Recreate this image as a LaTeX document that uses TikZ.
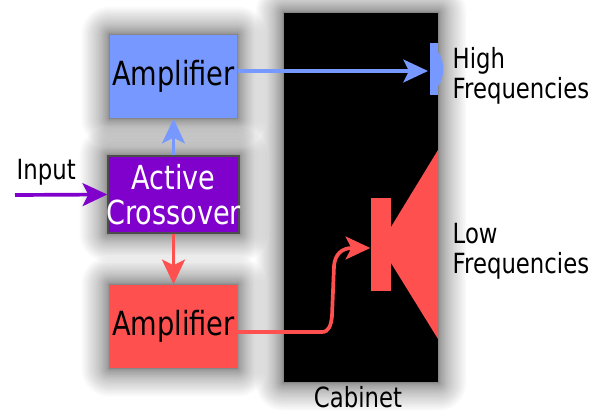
\documentclass[tikz,border=0pt]{standalone}
\usepackage{fontspec}
\setmainfont[FakeStretch=0.82]{DejaVu Sans}
\usetikzlibrary{arrows.meta,backgrounds,calc}
\definecolor{ampblue}{RGB}{119,153,255}
\definecolor{ampred}{RGB}{255,80,80}
\definecolor{xpurple}{RGB}{128,0,204}
\tikzset{
    box/.style={inner sep=0pt, minimum width=1.27cm, minimum height=0.83cm, font=\fontsize{9.45}{10}\selectfont},
    label/.style={inner sep=0pt, align=left, font=\fontsize{7.9}{8.4}\selectfont},
    wire/.style={line width=1.05pt, -{Stealth[length=7pt, width=6.5pt, inset=1.6pt]}},
}
\newcommand{\softshadow}[1]{
    \foreach \i [evaluate=\i as \r using \i*\i/130] in {1, ..., 32} {
        \fill[black, opacity=0.02, rounded corners=\r pt]
            ($(#1.south west)+(-\r pt, -\r pt)$) rectangle ($(#1.north east)+(\r pt, \r pt)$);
    }
}
\begin{document}
\begin{tikzpicture}[x=0.01cm, y=-0.01cm]
    \useasboundingbox (0, 0) rectangle (600, 412);

    % cabinet and speakers
    \node[fill=black, minimum width=1.54cm, minimum height=3.69cm, inner sep=0pt] (cabinet) at (361, 197.5) {};
    \fill[ampblue] (438, 52) .. controls (445, 60) and (445, 78) .. (438, 86) -- cycle;
    \node[fill=ampblue, minimum width=0.08cm, minimum height=0.52cm, inner sep=0pt] (tweeter) at (434, 69) {};
    \node[fill=ampred, minimum width=0.20cm, minimum height=0.93cm, inner sep=0pt] (woofer) at (381, 244.5) {};
    \fill[ampred] (391, 227) -- (438, 150) -- (438, 339) -- (391, 263) -- cycle;

    % draw boxes
    \node[box, fill=ampblue] (amphigh) at (173.5, 76.5) {Amplifier};
    \node[box, fill=ampred] (amplow) at (173.5, 326.5) {Amplifier};
    \node[box, fill=xpurple, draw=black!70, line width=0.4pt, inner xsep=-3pt, minimum width=1.31cm, minimum height=0.77cm,
        text=white, align=center, font=\fontsize{9.4}{10}\selectfont] (crossover) at (173.5, 194.5) {Active\\Crossover};

    % shadows behind everything
    \begin{scope}[on background layer]
        \softshadow{cabinet}
        \softshadow{amphigh}
        \softshadow{amplow}
        \softshadow{crossover}
    \end{scope}

    % draw connectors
    \coordinate (inputstart) at (15, 195);
    \coordinate (highin) at (428, 71);
    \draw[wire, xpurple] (inputstart) -- (crossover.west);
    \draw[wire, ampblue] (crossover.north) -- (amphigh.south);
    \draw[wire, ampred] (crossover.south) -- (amplow.north);
    \draw[wire, ampblue] (amphigh.east |- highin) -- (highin);
    \coordinate (lowout) at (amplow.east |- 0, 332);
    \coordinate (lowin) at (woofer.west |- 0, 248);
    \draw[wire, ampred] (lowout) -- (322, 332) .. controls (329, 332) and (331, 325) .. (332, 316)
        -- (334, 266) .. controls (335, 254) and (342, 248) .. (lowin);

    % draw labels
    \node[label, anchor=base west] (inputlabel) at (16, 179) {Input};
    \node[label, anchor=base west] (highlabel) at (452, 98) {High\\Frequencies};
    \node[label, anchor=base west] (lowlabel) at (452, 273) {Low\\Frequencies};
    \node[label, anchor=base] (cabinetlabel) at (358, 407) {Cabinet};
\end{tikzpicture}
\end{document}
